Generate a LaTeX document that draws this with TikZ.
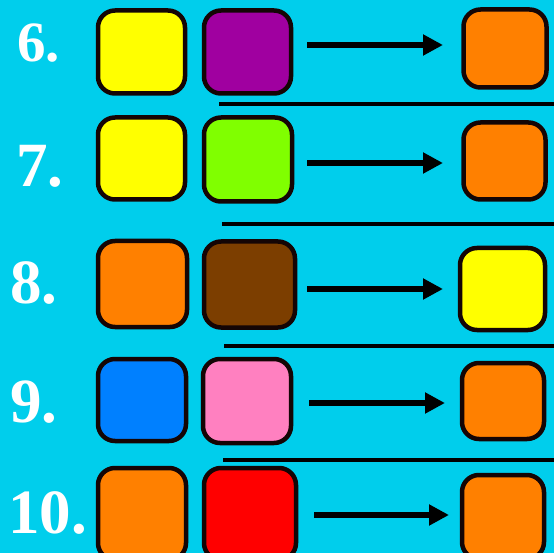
\documentclass[tikz,border=0pt]{standalone}
\usepackage{fontspec}
\setmainfont{Liberation Serif}
\usetikzlibrary{arrows.meta}
\definecolor{bgc}{RGB}{0,206,236}
\definecolor{cyel}{RGB}{255,255,0}
\definecolor{cpur}{RGB}{160,0,160}
\definecolor{corg}{RGB}{255,128,0}
\definecolor{cgrn}{RGB}{128,255,0}
\definecolor{cbrn}{RGB}{124,62,0}
\definecolor{cblu}{RGB}{0,128,255}
\definecolor{cpnk}{RGB}{255,128,192}
\definecolor{cred}{RGB}{255,0,0}
\definecolor{edge}{RGB}{20,5,5}
\tikzset{
  tile/.style={draw=edge, line width=4.5pt, rounded corners=17pt, inner sep=0pt},
  num/.style={text=white, anchor=base west, inner sep=0pt, font=\bfseries\fontsize{63}{63}\selectfont},
  numsmall/.style={num, font=\bfseries\fontsize{57}{57}\selectfont},
  sep/.style={draw=black, line width=3.8pt},
  arr/.style={draw=black, line width=6pt, -{Triangle[length=20pt,width=20pt]}}
}
\begin{document}
\begin{tikzpicture}[x=1pt,y=-1pt]
\fill[bgc] (0,0) rectangle (554,553);
\useasboundingbox (0,0) rectangle (554,553);
% row 6
\node[numsmall] (n6) at (17,62) {6.};
\node[tile, fill=cyel, minimum width=87pt, minimum height=83pt] (a6) at (141.5,52) {};
\node[tile, fill=cpur, minimum width=87pt, minimum height=83pt] (b6) at (247.5,52) {};
\node[tile, fill=corg, minimum width=83pt, minimum height=78pt] (c6) at (505,48.5) {};
\coordinate (s6) at (307,45); \coordinate (e6) at (443,45);
\draw[arr] (s6) -- (e6);
\coordinate (l6a) at (219,104); \coordinate (l6b) at (554,104);
\draw[sep] (l6a) -- (l6b);
% row 7
\node[num] (n7) at (16,187) {7.};
\node[tile, fill=cyel, minimum width=87pt, minimum height=82pt] (a7) at (141.5,158.5) {};
\node[tile, fill=cgrn, minimum width=88pt, minimum height=84pt] (b7) at (248,159.5) {};
\node[tile, fill=corg, minimum width=82pt, minimum height=77pt] (c7) at (504.5,161) {};
\coordinate (s7) at (307,163); \coordinate (e7) at (443,163);
\draw[arr] (s7) -- (e7);
\coordinate (l7a) at (222,224); \coordinate (l7b) at (554,224);
\draw[sep] (l7a) -- (l7b);
% row 8
\node[num] (n8) at (10,303) {8.};
\node[tile, fill=corg, minimum width=89pt, minimum height=86pt] (a8) at (142.5,284) {};
\node[tile, fill=cbrn, minimum width=91pt, minimum height=86pt] (b8) at (249.5,284.5) {};
\node[tile, fill=cyel, minimum width=85pt, minimum height=82pt] (c8) at (502.5,289) {};
\coordinate (s8) at (307,289); \coordinate (e8) at (443,289);
\draw[arr] (s8) -- (e8);
\coordinate (l8a) at (224,346); \coordinate (l8b) at (554,346);
\draw[sep] (l8a) -- (l8b);
% row 9
\node[num] (n9) at (10,422) {9.};
\node[tile, fill=cblu, minimum width=88pt, minimum height=82pt] (a9) at (142,400) {};
\node[tile, fill=cpnk, minimum width=88pt, minimum height=84pt] (b9) at (247,401) {};
\node[tile, fill=corg, minimum width=82pt, minimum height=76pt] (c9) at (503,401) {};
\coordinate (s9) at (309,403); \coordinate (e9) at (445,403);
\draw[arr] (s9) -- (e9);
\coordinate (l9a) at (223,460); \coordinate (l9b) at (554,460);
\draw[sep] (l9a) -- (l9b);
% row 10
\node[num] (n10) at (8,533) {10.};
\node[tile, fill=corg, minimum width=88pt, minimum height=92pt] (a10) at (142,514) {};
\node[tile, fill=cred, minimum width=92pt, minimum height=92pt] (b10) at (250,514) {};
\node[tile, fill=corg, minimum width=82pt, minimum height=84pt] (c10) at (503,517) {};
\coordinate (s10) at (314,515); \coordinate (e10) at (449,515);
\draw[arr] (s10) -- (e10);
\end{tikzpicture}
\end{document}
